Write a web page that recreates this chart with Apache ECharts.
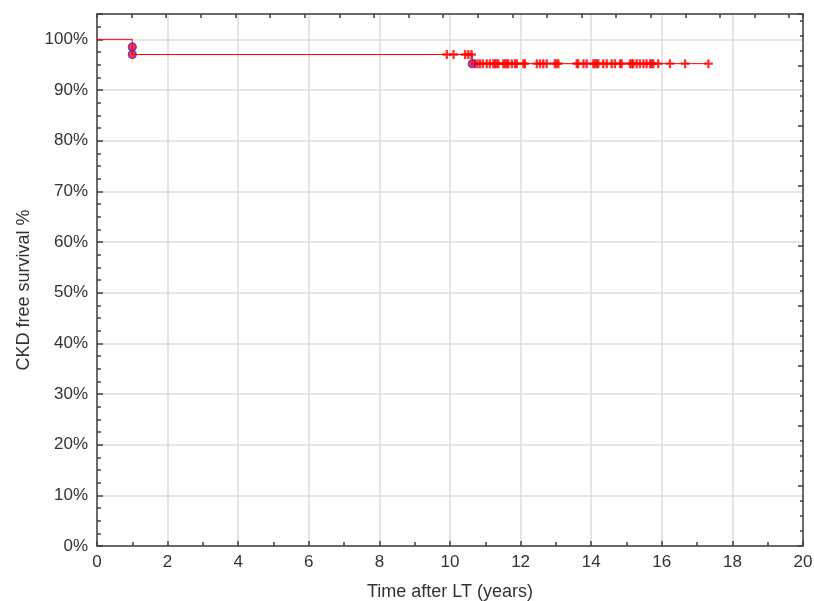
<!DOCTYPE html>
<html>
<head>
<meta charset="utf-8">
<script src="https://cdn.jsdelivr.net/npm/echarts@6/dist/echarts.min.js"></script>
<style>html,body{margin:0;padding:0;background:#fff}#c{width:814px;height:601px}</style>
</head>
<body>
<div id="c"></div>
<script>
// Kaplan-Meier steps: survival (%) after each event time
const eventTimes = [1.0, 1.0, 10.63];
const eventSurvival = [98.5, 97.0, 95.2];
const startSurvival = 100;
const endTime = 17.32;
// censored observations on each plateau
const censoredUpper = [9.91, 10.10, 10.43, 10.52, 10.61];
const censoredLower = [10.71, 10.78, 10.85, 10.93, 11.04, 11.13, 11.23, 11.27, 11.32, 11.37,
  11.51, 11.56, 11.61, 11.65, 11.75, 11.84, 11.89, 12.08, 12.12, 12.46, 12.55, 12.64, 12.74,
  12.97, 13.02, 13.07, 13.59, 13.63, 13.78, 13.87, 14.06, 14.11, 14.16, 14.20, 14.34, 14.44,
  14.58, 14.67, 14.82, 14.86, 15.10, 15.15, 15.19, 15.29, 15.38, 15.48, 15.57, 15.67, 15.71,
  15.76, 15.90, 16.23, 16.66, 17.32];
const xTicks = [0, 2, 4, 6, 8, 10, 12, 14, 16, 18, 20];
const yTicks = [0, 10, 20, 30, 40, 50, 60, 70, 80, 90, 100];

// build step line
const stepData = [[0, startSurvival]];
let cur = startSurvival;
eventTimes.forEach((t, i) => {
  stepData.push([t, cur]);
  cur = eventSurvival[i];
  stepData.push([t, cur]);
});
stepData.push([endTime, cur]);

const eventPts = eventTimes.map((t, i) => [t, eventSurvival[i]]);
const censPts = censoredUpper.map(t => [t, eventSurvival[1]])
  .concat(censoredLower.map(t => [t, eventSurvival[2]]));

const plus = 'path://M3.7,0h2.6v3.7h3.7v2.6h-3.7v3.7h-2.6v-3.7h-3.7v-2.6h3.7z';
const font = 'Liberation Sans, Arial, sans-serif';
const axisCol = '#404040';
const lblCol = '#333333';

const chart = echarts.init(document.getElementById('c'));
chart.setOption({
  animation: false,
  backgroundColor: '#ffffff',
  grid: { left: 97, right: 11, top: 14, bottom: 55, containLabel: false, outerBoundsMode: 'none' },
  xAxis: [{
    type: 'value', min: xTicks[0], max: xTicks[xTicks.length - 1], interval: 2,
    name: 'Time after LT (years)', nameLocation: 'middle', nameGap: 37,
    nameTextStyle: { fontFamily: font, fontSize: 18, color: lblCol },
    axisLine: { show: true, onZero: false, lineStyle: { color: axisCol, width: 1.5 } },
    axisTick: { show: true, inside: true, length: 5, lineStyle: { color: axisCol, width: 1.5 } },
    minorTick: { show: true, splitNumber: 2, length: 4, lineStyle: { color: axisCol, width: 1.5 } },
    axisLabel: { fontFamily: font, fontSize: 17, color: lblCol, margin: 8 },
    splitLine: { show: true, lineStyle: { color: '#dcdcdc', width: 1.5 } }
  }, {
    type: 'value', position: 'top', min: -0.49, max: 19.91, interval: 1,
    axisLine: { show: true, onZero: false, lineStyle: { color: axisCol, width: 1.5 } },
    axisTick: { show: true, inside: true, length: 4, lineStyle: { color: axisCol, width: 1.5 } },
    axisLabel: { show: false }, splitLine: { show: false }
  }],
  yAxis: [{
    type: 'value', min: 0, max: 105, interval: 10,
    name: 'CKD free survival %', nameLocation: 'middle', nameGap: 64,
    nameTextStyle: { fontFamily: font, fontSize: 18, color: lblCol, padding: [0, 20, 0, 0] },
    axisLine: { show: true, onZero: false, lineStyle: { color: axisCol, width: 1.5 } },
    axisTick: { show: true, inside: true, length: 6, lineStyle: { color: axisCol, width: 1.5 } },
    minorTick: { show: true, splitNumber: 4, length: 4, lineStyle: { color: axisCol, width: 1.5 } },
    axisLabel: { fontFamily: font, fontSize: 17, color: lblCol, margin: 9,
      formatter: v => (yTicks.indexOf(v) >= 0 ? v + '%' : '') },
    splitLine: { show: true, lineStyle: { color: '#dcdcdc', width: 1.5 } }
  }, {
    type: 'value', position: 'right', min: 7, max: 539, interval: 60,
    axisLine: { show: true, onZero: false, lineStyle: { color: axisCol, width: 1.5 } },
    axisTick: { show: true, inside: true, length: 5, lineStyle: { color: axisCol, width: 1.5 } },
    minorTick: { show: true, splitNumber: 4, length: 3, lineStyle: { color: axisCol, width: 1.5 } },
    axisLabel: { show: false }, splitLine: { show: false }
  }],
  series: [{
    type: 'line', data: stepData, symbol: 'none', silent: true,
    lineStyle: { color: '#ff0000', width: 1 }, z: 3
  }, {
    type: 'scatter', data: censPts, symbol: plus, symbolSize: 9,
    itemStyle: { color: '#ff0000' }, z: 4
  }, {
    type: 'scatter', data: eventPts, symbol: 'circle', symbolSize: 8,
    itemStyle: { color: '#ff0000', borderColor: '#3030ff', borderWidth: 1.2 }, z: 5
  }]
});
</script>
</body>
</html>
